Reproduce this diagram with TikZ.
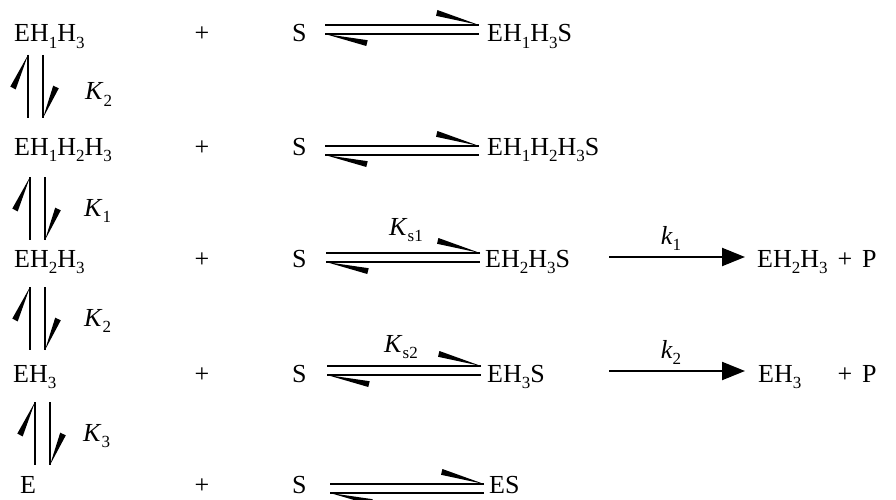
\documentclass[tikz,border=0pt]{standalone}
\usepackage{fontspec}
\setmainfont{Liberation Serif}
\usetikzlibrary{arrows.meta}

% lowered subscript in text mode
\newcommand\sbs[1]{\raisebox{-0.26em}{\fontsize{17}{17}\selectfont #1}}

\tikzset{
  chem/.style={font=\fontsize{26}{30}\selectfont, inner sep=0pt, anchor=base west},
  chemc/.style={chem, anchor=base},
  fwd/.style={line width=2.2pt, -{Triangle[length=23pt,width=18pt]}},
  % horizontal equilibrium harpoons, origin at left end of the upper line
  eqh/.pic={
    \draw[line width=2.6pt] (0,0) -- (154,0);
    \draw[line width=2.6pt] (0,9) -- (154,9);
    \fill (154,0) -- (112.4,-15) -- (111,-9.2) -- cycle;
    \fill (0,9) -- (41.3,21) -- (42.7,15.2) -- cycle;
  },
  % vertical equilibrium harpoons, origin at top of the upward line
  eqv/.pic={
    \draw[line width=2.4pt] (0,0) -- (0,63);
    \fill (0,0) -- (-12.3,34.4) -- (-17.7,31.6) -- cycle;
    \draw[line width=2.4pt] (15,0) -- (15,63);
    \fill (15,63) -- (30.8,33.3) -- (25.2,30.7) -- cycle;
  },
}

\begin{document}
\begin{tikzpicture}[x=1pt,y=-1pt]
\fill[white] (0,0) rectangle (896,500);
\useasboundingbox (0,0) rectangle (896,500);

% row 1
\node[chem]  (a1) at (14,42)  {EH\sbs{1}H\sbs{3}};
\node[chemc] (p1) at (202,42) {+};
\node[chem]  (s1) at (292,42) {S};
\pic at (325,25) {eqh};
\node[chem]  (c1) at (487,42) {EH\sbs{1}H\sbs{3}S};

% row 2
\node[chem]  (a2) at (14,155)  {EH\sbs{1}H\sbs{2}H\sbs{3}};
\node[chemc] (p2) at (202,155) {+};
\node[chem]  (s2) at (292,155) {S};
\pic at (325,146) {eqh};
\node[chem]  (c2) at (487,155) {EH\sbs{1}H\sbs{2}H\sbs{3}S};

% row 3
\node[chem]  (a3) at (14,267)  {EH\sbs{2}H\sbs{3}};
\node[chemc] (p3) at (202,267) {+};
\node[chem]  (s3) at (292,267) {S};
\pic at (326,253) {eqh};
\node[chem]  (c3) at (485,267) {EH\sbs{2}H\sbs{3}S};
\node[chemc] (ks1) at (406,235) {\textit{K}\sbs{s1}};
\coordinate (f1a) at (609,257);
\coordinate (f1b) at (745,257);
\draw[fwd] (f1a) -- (f1b);
\node[chemc] (k1) at (671,244) {\textit{k}\sbs{1}};
\node[chem]  (r3) at (757,267) {EH\sbs{2}H\sbs{3}};
\node[chemc] (rp3) at (845,267) {+};
\node[chem]  (P3) at (862,267) {P};

% row 4
\node[chem]  (a4) at (13,382)  {EH\sbs{3}};
\node[chemc] (p4) at (202,382) {+};
\node[chem]  (s4) at (292,382) {S};
\pic at (327,366) {eqh};
\node[chem]  (c4) at (487,382) {EH\sbs{3}S};
\node[chemc] (ks2) at (401,352) {\textit{K}\sbs{s2}};
\coordinate (f2a) at (609,371);
\coordinate (f2b) at (745,371);
\draw[fwd] (f2a) -- (f2b);
\node[chemc] (k2) at (671,358) {\textit{k}\sbs{2}};
\node[chem]  (r4) at (758,382) {EH\sbs{3}};
\node[chemc] (rp4) at (845,382) {+};
\node[chem]  (P4) at (862,382) {P};

% row 5
\node[chem]  (a5) at (20,493)  {E};
\node[chemc] (p5) at (202,493) {+};
\node[chem]  (s5) at (292,493) {S};
\pic at (330,484) {eqh};
\node[chem]  (c5) at (489,493) {ES};

% vertical equilibria between the free-enzyme forms
\pic at (28,55)  {eqv};
\node[chem] (K21) at (85,100) {\textit{K}\sbs{2}};
\pic at (30,177) {eqv};
\node[chem] (K1)  at (84,216) {\textit{K}\sbs{1}};
\pic at (30,287) {eqv};
\node[chem] (K22) at (84,326) {\textit{K}\sbs{2}};
\pic at (35,402) {eqv};
\node[chem] (K3)  at (83,441) {\textit{K}\sbs{3}};
\end{tikzpicture}
\end{document}
